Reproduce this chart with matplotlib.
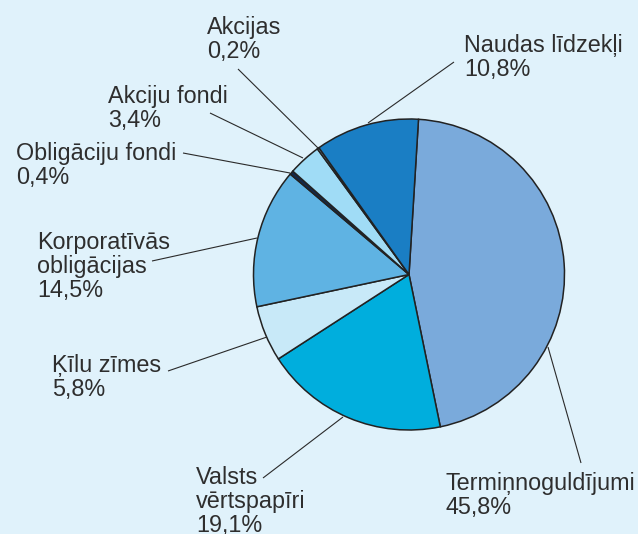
import matplotlib
matplotlib.use("Agg")
import matplotlib.pyplot as plt

# ---- data ----
categories = ["Termiņnoguldījumi", "Valsts\nvērtspapīri", "Ķīlu zīmes",
              "Korporatīvās\nobligācijas", "Obligāciju fondi", "Akciju fondi",
              "Akcijas", "Naudas līdzekļi"]
values = [45.8, 19.1, 5.8, 14.5, 0.4, 3.4, 0.2, 10.8]
value_labels = ["45,8%", "19,1%", "5,8%", "14,5%", "0,4%", "3,4%", "0,2%", "10,8%"]
colors = ["#7aaadb", "#00aedd", "#c8e9f8", "#5fb3e3", "#13294b", "#a0dcf6",
          "#8aa8c0", "#1a7ec4"]

# ---- layout (pixel coords, y from top) ----
W, H = 638, 534
BG = "#e0f2fb"
TXT = "#2e2e2e"
label_pos = [(446, 490), (196, 484), (52, 372), (37, 249),
             (16, 160), (108, 103), (207, 34), (464, 52)]
leaders = [((581, 463), (548, 347)), ((263, 478), (343, 417)),
           ((168, 371), (267, 337)), ((152, 261), (257, 238)),
           ((183, 153), (290, 173)), ((210, 113), (303, 158)),
           ((238, 69), (318, 148)), ((454, 62), (368, 123))]
pitch = 24

fig = plt.figure(figsize=(W / 100, H / 100), dpi=100)
fig.patch.set_facecolor(BG)
ax = fig.add_axes([0, 0, 1, 1])
ax.set_facecolor(BG)

ax.pie(values, colors=colors, startangle=86.5, counterclock=False,
       center=(409, H - 274.5), radius=155.5, frame=True,
       wedgeprops=dict(edgecolor="#222222", linewidth=1.1))
ax.set_xlim(0, W)
ax.set_ylim(0, H)
ax.set_aspect("equal")
ax.axis("off")

font = dict(family=["Liberation Sans", "DejaVu Sans"], fontsize=16.8, color=TXT)
for cat, vl, (x, y) in zip(categories, value_labels, label_pos):
    lines = cat.split("\n") + [vl]
    for i, ln in enumerate(lines):
        ax.text(x, H - (y + i * pitch), ln, ha="left", va="baseline", **font)

for (x0, y0), (x1, y1) in leaders:
    ax.plot([x0, x1], [H - y0, H - y1], color="#2a2a2a", lw=0.8,
            solid_capstyle="butt")

fig.savefig("out.png", dpi=100, facecolor=BG)
